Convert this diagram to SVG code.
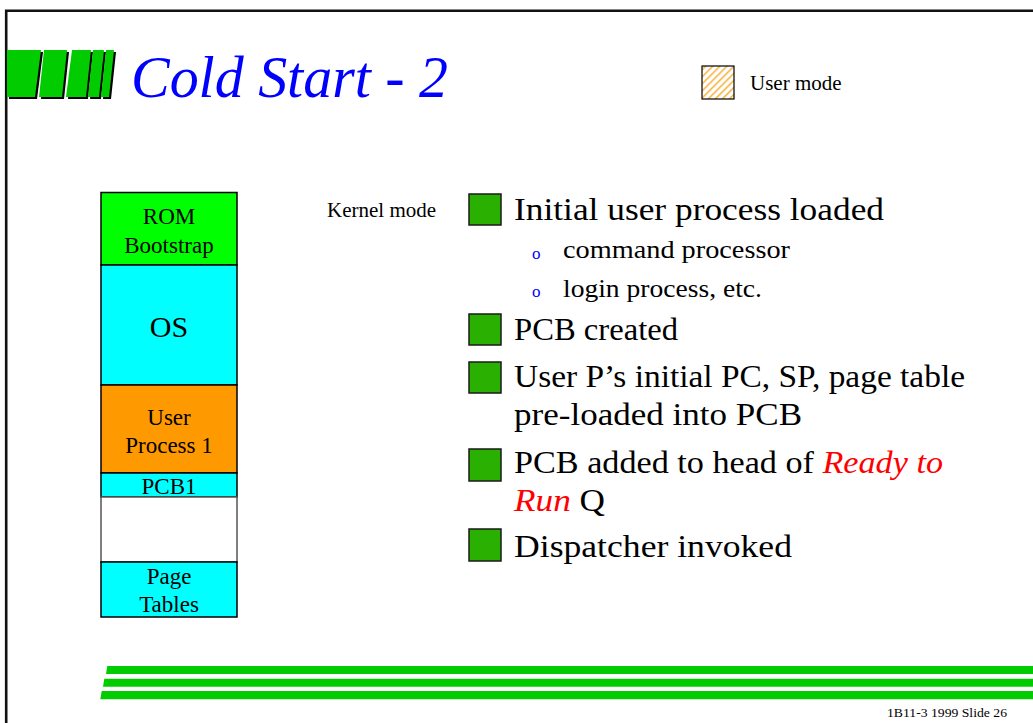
<svg xmlns="http://www.w3.org/2000/svg" width="1033" height="723" viewBox="0 0 1033 723">
  <defs>
    <style>
      .serif { font-family: "Liberation Serif", "Times New Roman", serif; }
      .blk { stroke: #000; stroke-width: 1.5; }
      .mem { font-family: "Liberation Serif", "Times New Roman", serif; font-size: 23px; fill: #000; text-anchor: middle; }
      .mem-big { font-size: 30px; }
      .bullet { fill: #2ab000; stroke: #1a1a1a; stroke-width: 1.5; }
      .main { font-family: "Liberation Serif", "Times New Roman", serif; font-size: 32px; fill: #000; }
      .sub { font-family: "Liberation Serif", "Times New Roman", serif; font-size: 26px; fill: #000; }
      .dot { font-family: "Liberation Serif", "Times New Roman", serif; font-size: 17px; fill: #0000ff; }
      .stripe { fill: #00cc00; }
    </style>
    <pattern id="hatch" width="5" height="5" patternUnits="userSpaceOnUse" patternTransform="rotate(45)">
      <rect width="5" height="5" fill="#ffffff"/>
      <rect x="0" y="0" width="1.5" height="5" fill="#f7b03a"/>
    </pattern>
  </defs>

  <rect width="1033" height="723" fill="#ffffff"/>

  <!-- slide frame -->
  <path d="M6.2 723 V10.8 H1033" fill="none" stroke="#111" stroke-width="2.6"/>

  <!-- title logo: slanted green bars with drop shadow -->
  <g id="logo">
    <g fill="#000" transform="translate(2,2)">
      <polygon points="7,50 41,50 35,97 7,97"/>
      <polygon points="44,50 67,50 62,97 39,97"/>
      <polygon points="72,50 91,50 86,97 66,97"/>
      <polygon points="93,50 104,50 99,97 88,97"/>
      <polygon points="106,50 114,50 109,97 101,97"/>
    </g>
    <g fill="#00cc00">
      <polygon points="7,50 41,50 35,97 7,97"/>
      <polygon points="44,50 67,50 62,97 39,97"/>
      <polygon points="72,50 91,50 86,97 66,97"/>
      <polygon points="93,50 104,50 99,97 88,97"/>
      <polygon points="106,50 114,50 109,97 101,97"/>
    </g>
  </g>

  <!-- title -->
  <text id="title" class="serif" x="131" y="97" font-size="60" font-style="italic" fill="#0000ff" textLength="317" lengthAdjust="spacingAndGlyphs">Cold Start - 2</text>

  <!-- legend -->
  <g id="legend-user">
    <rect x="702" y="66" width="32" height="33" fill="url(#hatch)" stroke="#000" stroke-width="1.2"/>
    <text class="serif" x="750" y="90" font-size="21" fill="#000">User mode</text>
  </g>
  <text id="legend-kernel" class="serif" x="327" y="217" font-size="21" fill="#000">Kernel mode</text>

  <!-- memory map -->
  <g id="memory">
    <g id="mem-rom">
      <rect class="blk" x="101" y="192.5" width="136" height="72.5" fill="#00ff00"/>
      <text class="mem" x="169" y="224">ROM</text>
      <text class="mem" x="169" y="253">Bootstrap</text>
    </g>
    <g id="mem-os">
      <rect class="blk" x="101" y="265" width="136" height="120" fill="#00ffff"/>
      <text class="mem mem-big" x="169" y="337">OS</text>
    </g>
    <g id="mem-user">
      <rect class="blk" x="101" y="385" width="136" height="88" fill="#ff9900"/>
      <text class="mem" x="169" y="425">User</text>
      <text class="mem" x="169" y="453">Process 1</text>
    </g>
    <g id="mem-pcb1">
      <rect class="blk" x="101" y="473" width="136" height="24" fill="#00ffff"/>
      <text class="mem" x="169" y="494">PCB1</text>
    </g>
    <g id="mem-free">
      <rect x="101" y="497" width="136" height="65" fill="#ffffff" stroke="#555" stroke-width="1.5"/>
    </g>
    <g id="mem-pages">
      <rect class="blk" x="101" y="562" width="136" height="55" fill="#00ffff"/>
      <text class="mem" x="169" y="584">Page</text>
      <text class="mem" x="169" y="612">Tables</text>
    </g>
  </g>

  <!-- bullet list -->
  <g id="item-1">
    <rect class="bullet" x="469" y="194" width="32" height="31"/>
    <text class="main" x="514" y="220" textLength="370" lengthAdjust="spacingAndGlyphs">Initial user process loaded</text>
  </g>
  <g id="item-1a">
    <text class="dot" x="532" y="259">o</text>
    <text class="sub" x="563" y="258" textLength="227" lengthAdjust="spacingAndGlyphs">command processor</text>
  </g>
  <g id="item-1b">
    <text class="dot" x="532" y="297">o</text>
    <text class="sub" x="563" y="297" textLength="199" lengthAdjust="spacingAndGlyphs">login process, etc.</text>
  </g>
  <g id="item-2">
    <rect class="bullet" x="469" y="314" width="32" height="31"/>
    <text class="main" x="514" y="340" textLength="164" lengthAdjust="spacingAndGlyphs">PCB created</text>
  </g>
  <g id="item-3">
    <rect class="bullet" x="469" y="362" width="32" height="31"/>
    <text class="main" x="514" y="387" textLength="451" lengthAdjust="spacingAndGlyphs">User P’s initial PC, SP, page table</text>
    <text class="main" x="514" y="425" textLength="288" lengthAdjust="spacingAndGlyphs">pre-loaded into PCB</text>
  </g>
  <g id="item-4">
    <rect class="bullet" x="469" y="449" width="32" height="32"/>
    <text class="main" x="514" y="473" textLength="429" lengthAdjust="spacingAndGlyphs">PCB added to head of <tspan fill="#ff0000" font-style="italic">Ready to</tspan></text>
    <text class="main" x="514" y="511" textLength="91" lengthAdjust="spacingAndGlyphs"><tspan fill="#ff0000" font-style="italic">Run</tspan> Q</text>
  </g>
  <g id="item-5">
    <rect class="bullet" x="469" y="529" width="32" height="32"/>
    <text class="main" x="514" y="557" textLength="278" lengthAdjust="spacingAndGlyphs">Dispatcher invoked</text>
  </g>

  <!-- footer stripes -->
  <g id="footer-stripes">
    <polygon class="stripe" points="107.3,666 1033,666 1033,674 106,674"/>
    <polygon class="stripe" points="104.3,678.7 1033,678.7 1033,686.7 103,686.7"/>
    <polygon class="stripe" points="101.7,691 1033,691 1033,699.3 100.3,699.3"/>
  </g>
  <text id="footer" class="serif" x="887" y="717" font-size="13" fill="#000" textLength="120" lengthAdjust="spacingAndGlyphs">1B11-3  1999 Slide 26</text>
</svg>
